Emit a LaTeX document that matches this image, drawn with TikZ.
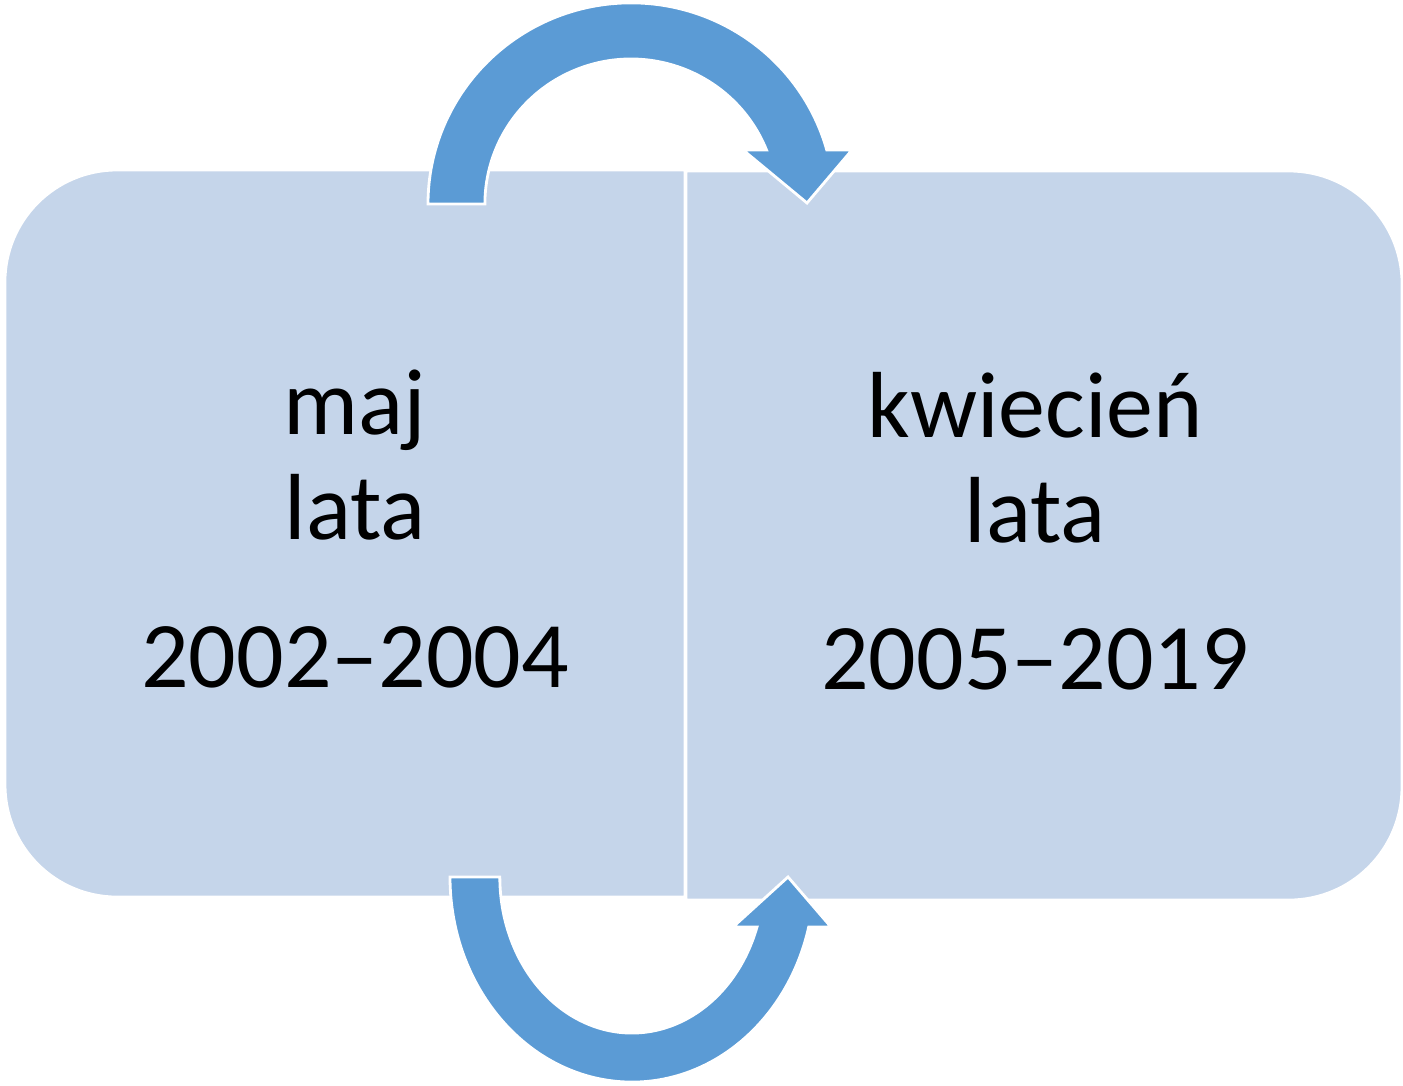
\documentclass[tikz,border=0pt]{standalone}
\usepackage{fontspec}
\setmainfont{Carlito}
\usetikzlibrary{positioning}
\definecolor{boxBlue}{HTML}{C5D5EA}
\definecolor{arrowBlue}{HTML}{5B9BD5}

\begin{document}
\begin{tikzpicture}[x=0.01cm,y=0.01cm,panel/.style={fill=boxBlue,draw=white,line width=0.8pt},turn/.style={fill=arrowBlue,draw=white,line width=0.8pt},txt/.style={anchor=base,inner sep=0pt,font=\fontsize{26.7}{30}\selectfont}]
\useasboundingbox[fill=white] (0,0) rectangle (1403,1086);
% panels
\draw[panel] (685,189) -- (685,916) -- (117,916) arc[start angle=90,end angle=180,radius=1.12cm] -- (5,301) arc[start angle=180,end angle=270,radius=1.12cm] -- cycle;
\draw[panel] (686,186) -- (686,915) -- (1289,915) arc[start angle=90,end angle=0,radius=1.13cm] -- (1402,299) arc[start angle=0,end angle=-90,radius=1.13cm] -- cycle;
% curved arrows
\draw[turn] (428,882) arc[start angle=180,end angle=15.6,x radius=2.03cm,y radius=2.01cm] -- (852,936) -- (807,883) -- (743,936) -- (766.5,936) arc[start angle=21.9,end angle=180,x radius=1.46cm,y radius=1.45cm] -- cycle;
\draw[turn] (450,209) arc[start angle=180,end angle=345.9,x radius=1.82cm,y radius=2.05cm] -- (831,159) -- (788,209) -- (733,159) -- (757,159) arc[start angle=341.3,end angle=180,x radius=1.32cm,y radius=1.56cm] -- cycle;
% labels
\node[txt] (maj) at (355,651) {maj};
\node[txt] (lataL) at (355,546) {lata};
\node[txt] (yearsL) at (355,398) {2002–2004};
\node[txt] (kwiecien) at (1035,648) {kwiecień};
\node[txt] (lataR) at (1035,543) {lata};
\node[txt] (yearsR) at (1035,396) {2005–2019};
\end{tikzpicture}
\end{document}
